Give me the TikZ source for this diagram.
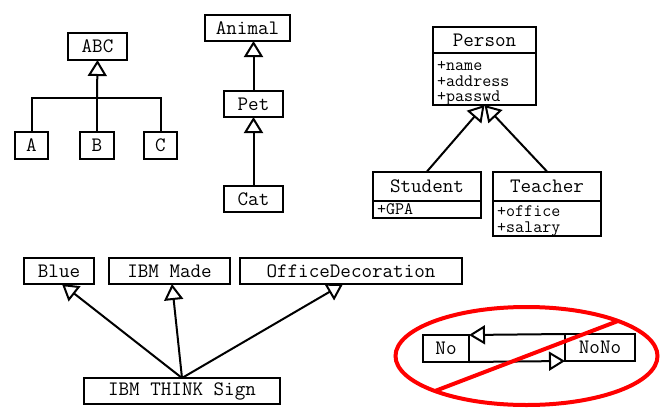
\documentclass[tikz,border=0pt]{standalone}
\usepackage{fontspec}
\usetikzlibrary{arrows.meta}

\tikzset{
	cls/.style={shape=rectangle, draw, line width=2pt, inner sep=0pt, outer sep=0pt, font=\ttfamily\fontsize{20.5}{22}\selectfont},
	attrbox/.style={shape=rectangle, draw, line width=2pt, inner sep=0pt, outer sep=0pt},
	attrtext/.style={anchor=north west, inner xsep=4pt, inner ysep=4pt, align=left, font=\ttfamily\fontsize{17.5}{15.5}\selectfont},
	inherit/.style={line width=2pt, -{Triangle[open, length=16pt, width=19pt]}}
}

\begin{document}
\begin{tikzpicture}[x=1pt, y=-1pt]
	\useasboundingbox (0,0) rectangle (664,415);
	% ABC with three children:
	\node[cls, minimum width=59pt, minimum height=27pt] (abc) at (97.5, 46.5){ABC};
	\node[cls, minimum width=33pt, minimum height=27pt] (a) at (31.5, 145.5){A};
	\node[cls, minimum width=34pt, minimum height=27pt] (b) at (97, 145.5){B};
	\node[cls, minimum width=33pt, minimum height=27pt] (c) at (160.5, 145.5){C};
	\coordinate (fork) at (97, 98);
	\draw[line width=2pt] (a.north) |- (fork) -| (c.north);
	\draw[line width=2pt] (b.north) -- (fork);
	\draw[inherit] (fork) -- (abc.south);
	% Animal / Pet / Cat:
	\node[cls, minimum width=85pt, minimum height=26pt] (animal) at (247.5, 28){Animal};
	\node[cls, minimum width=59pt, minimum height=26pt] (pet) at (253.5, 104){Pet};
	\node[cls, minimum width=59pt, minimum height=26pt] (cat) at (253.5, 199){Cat};
	\draw[inherit] (pet.north) -- (pet.north |- animal.south);
	\draw[inherit] (cat) -- (pet);
	% Person, Student, Teacher:
	\node[cls, minimum width=103pt, minimum height=26pt] (person) at (484.5, 40){Person};
	\node[attrbox, minimum width=103pt, minimum height=52pt, anchor=north] (personattr) at (person.south){};
	\node[attrtext, inner ysep=8.5pt] (personattrtext) at (personattr.north west){+name\\+address\\+passwd};
	\node[cls, minimum width=108pt, minimum height=29pt] (student) at (427, 186){Student};
	\node[attrbox, minimum width=108pt, minimum height=17pt, anchor=north] (studentattr) at (student.south){};
	\node[attrtext, inner ysep=3pt] (studentattrtext) at (studentattr.north west){+GPA};
	\node[cls, minimum width=108pt, minimum height=29pt] (teacher) at (547, 186){Teacher};
	\node[attrbox, minimum width=108pt, minimum height=35pt, anchor=north] (teacherattr) at (teacher.south){};
	\node[attrtext, inner ysep=5pt] (teacherattrtext) at (teacherattr.north west){+office\\+salary};
	\draw[inherit] (student.north) -- (personattr.south);
	\draw[inherit] (teacher.north) -- (personattr.south);
	% IBM THINK Sign:
	\node[cls, minimum width=70pt, minimum height=26pt] (blue) at (59, 271){Blue};
	\node[cls, minimum width=121pt, minimum height=26pt] (ibmmade) at (169.5, 271){IBM Made};
	\node[cls, minimum width=222pt, minimum height=26pt] (office) at (351, 271){OfficeDecoration};
	\node[cls, minimum width=196pt, minimum height=26pt] (sign) at (182, 391){IBM THINK Sign};
	\draw[inherit] (sign.north) -- ([xshift=3pt]blue.south);
	\draw[inherit] (sign.north) -- ([xshift=2.5pt]ibmmade.south);
	\draw[inherit] (sign.north) -- ([xshift=-8pt]office.south);
	% No / NoNo, crossed out:
	\node[cls, minimum width=46pt, minimum height=27pt] (no) at (446, 348.5){No};
	\node[cls, minimum width=70pt, minimum height=27pt] (nono) at (600, 347.5){NoNo};
	\draw[inherit] (nono.north west) -- (no.north east);
	\draw[inherit] (no.south east) -- (nono.south west);
	\draw[red, line width=4pt] (526.5, 356) ellipse [x radius=131pt, y radius=49pt];
	\draw[red, line width=4pt] (435, 391) -- (618, 321);
\end{tikzpicture}
\end{document}
